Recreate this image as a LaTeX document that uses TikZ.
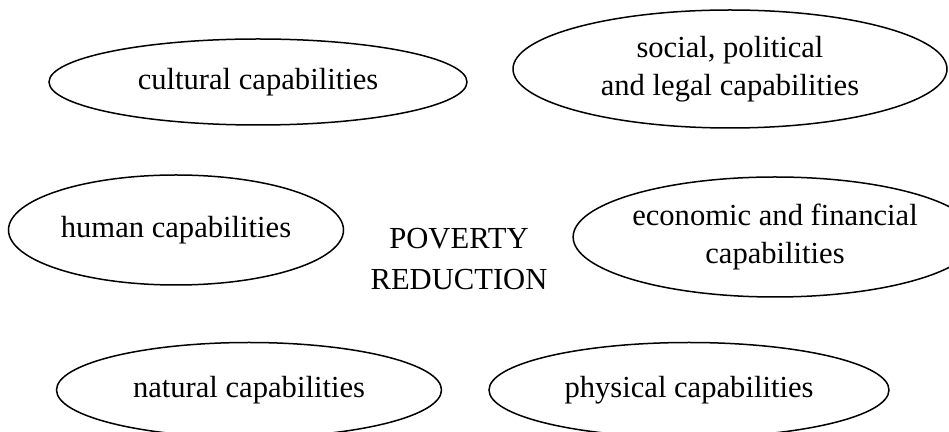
\documentclass[tikz,border=0pt]{standalone}
\usepackage{fontspec}
\setmainfont{Liberation Serif}
\usetikzlibrary{shapes.geometric}
\tikzset{
    capbox/.style={draw, ellipse, align=center, inner sep=0pt, line width=0.75pt,
        font=\fontsize{15.3}{19}\selectfont},
    goaltext/.style={align=center, font=\fontsize{15.3}{20.5}\selectfont}
}

\begin{document}
\begin{tikzpicture}[x=0.5pt, y=-0.5pt]
\useasboundingbox (0,0) rectangle (949,432);
\node[capbox, minimum width=209pt, minimum height=43pt] (cultural) at (258,82) {cultural capabilities};
\node[capbox, minimum width=217pt, minimum height=59pt] (social) at (730,69) {social, political\\and legal capabilities};
\node[capbox, minimum width=167.5pt, minimum height=55pt] (human) at (176,230) {human capabilities};
\node[goaltext] (poverty) at (459,259) {POVERTY\\REDUCTION};
\node[capbox, minimum width=196pt, minimum height=60pt] (economic) at (775,237) {economic and financial\\capabilities};
\node[capbox, minimum width=192.5pt, minimum height=47.5pt] (natural) at (249,390) {natural capabilities};
\node[capbox, minimum width=200pt, minimum height=47.5pt] (physical) at (689,390) {physical capabilities};
\end{tikzpicture}
\end{document}
